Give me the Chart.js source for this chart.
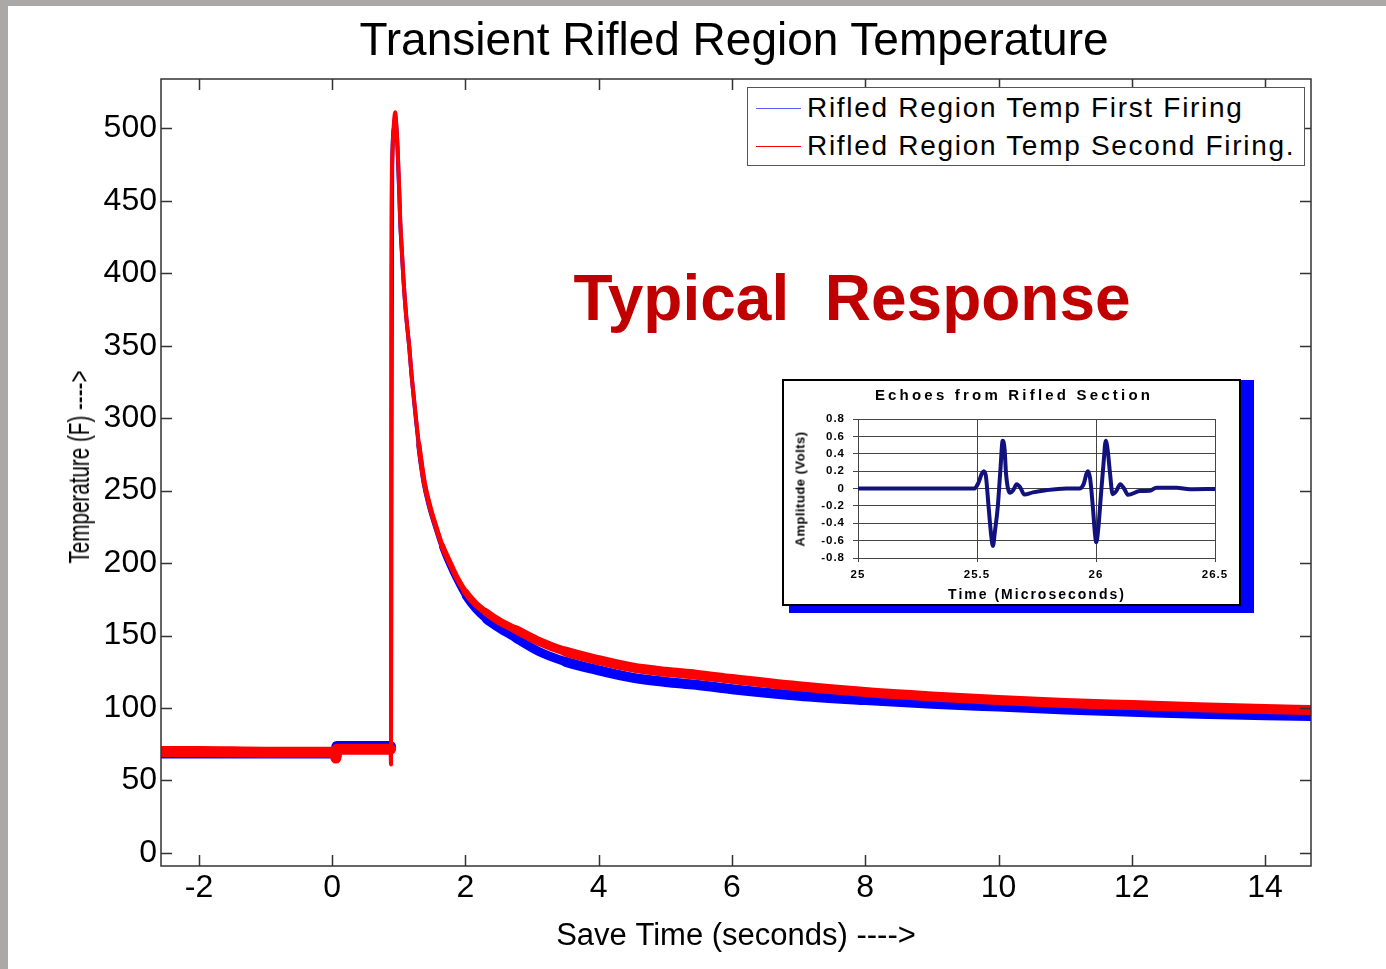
<!DOCTYPE html>
<html>
<head>
<meta charset="utf-8">
<title>Transient Rifled Region Temperature</title>
<script src="https://cdn.jsdelivr.net/npm/chart.js@4.4.0/dist/chart.umd.min.js"></script>
<style>
  body { margin: 0; background: #fff; width: 1386px; height: 969px; overflow: hidden; position: relative;
         font-family: "Liberation Sans", Arial, sans-serif; color: #000; }
  #mainChart { position: absolute; left: 0; top: 0; }
  .frameTop { position: absolute; left: 0; top: 0; width: 1386px; height: 6px; background: #aba9a5; }
  .frameLeft { position: absolute; left: 0; top: 0; width: 8px; height: 969px; background: #aba9a5; }
  .centered { position: absolute; transform: translate(-50%, -50%); white-space: pre; line-height: 1; }
  #title { left: 734px; top: 39px; font-size: 46px; }
  #ytitle { left: 79px; top: 467px; font-size: 30px; transform: translate(-50%, -50%) rotate(-90deg) scaleX(0.687); }
  #typical { left: 852px; top: 298px; font-size: 64px; font-weight: bold; color: #c00000; }
  #legend { position: absolute; left: 747px; top: 87px; width: 556px; height: 77px; border: 1px solid #555; background: #fff; }
  .legRow { position: absolute; left: 8px; height: 30px; display: flex; align-items: center; font-size: 28px; letter-spacing: 1.7px; }
  .legLine { width: 45px; height: 1px; margin-right: 6px; }
  #inset { position: absolute; left: 782px; top: 379px; width: 459px; height: 227px; box-sizing: border-box;
           border: 2px solid #000; background: #fff; box-shadow: 10px 4px 0 3px #0000ff; }
  #insetChart { position: absolute; left: 0; top: 0; }
  .insetText { position: absolute; transform: translate(-50%, -50%); white-space: pre; line-height: 1; font-weight: bold; }
</style>
</head>
<body>
<canvas id="mainChart" width="1386" height="969"></canvas>
<div class="frameTop"></div>
<div class="frameLeft"></div>
<div id="title" class="centered">Transient Rifled Region Temperature</div>
<div id="ytitle" class="centered">Temperature (F) ----&gt;</div>
<div id="typical" class="centered">Typical  Response</div>
<div id="legend">
  <div class="legRow" style="top:5px"><div class="legLine" style="background:#5c5cff"></div>Rifled Region Temp First Firing</div>
  <div class="legRow" style="top:43px"><div class="legLine" style="background:#ff0000"></div>Rifled Region Temp Second Firing.</div>
</div>
<div id="inset">
  <canvas id="insetChart" width="455" height="223"></canvas>
  <div class="insetText" style="left:230px; top:13px; font-size:15px; letter-spacing:3.2px;">Echoes from Rifled Section</div>
  <div class="insetText" style="left:253px; top:213px; font-size:14px; letter-spacing:2px;">Time (Microseconds)</div>
  <div class="insetText" style="left:16px; top:108px; font-size:13px; letter-spacing:0.5px; transform: translate(-50%, -50%) rotate(-90deg);">Amplitude (Volts)</div>
</div>

<script>
// main plot: save time (s) vs rifled region temperature (F)
const timeSec = [-2.57, -2, -1, 0, 0.04, 0.055, 0.07, 0.4, 0.8, 0.875,
  0.882, 0.886, 0.9, 0.925, 0.946, 0.965, 0.98, 1.006, 1.021, 1.047,
  1.07, 1.107, 1.156, 1.19, 1.23, 1.3, 1.38, 1.46, 1.557, 1.65,
  1.757, 1.87, 2.0, 2.15, 2.31, 2.5, 2.76, 3.1, 3.5, 4.0,
  4.5, 5.0, 5.46, 6.0, 7.0, 8.0, 9.0, 10, 11, 12,
  13, 14, 14.69];
const firstFiring = [69, 69, 69, 69, 69.5, 67, 73.5, 73.5, 73.5, 73.5,
  73, 200, 474, 500, 508, 499, 486, 455, 435, 413,
  395, 372, 349, 330, 311, 281, 255, 239, 224, 211,
  199, 188, 177, 168, 161, 155, 148, 139, 132, 126,
  121, 118, 116, 113, 108.5, 105.5, 103, 101, 99, 97.5,
  96, 95, 94.5];
const secondFiring = [70, 70, 69.5, 69.5, 70, 65.5, 71.5, 71.5, 71.5, 71.5,
  61, 390, 478, 503, 511, 500, 488, 457, 436, 414,
  395, 372, 349, 330, 312, 282, 256, 240, 225, 212,
  201, 190, 180, 172, 166, 160, 154, 146, 139, 133,
  128, 125, 123, 120, 115, 111, 108, 105.5, 103.5, 102,
  100.5, 99.3, 98.6];
const timeTicks = [-2, 0, 2, 4, 6, 8, 10, 12, 14];
const tempTicks = [0, 50, 100, 150, 200, 250, 300, 350, 400, 450, 500];

// inset: ultrasonic echoes
const echoTime = [25, 25.2, 25.489, 25.505, 25.52, 25.528, 25.537, 25.549, 25.56, 25.567,
  25.575, 25.587, 25.598, 25.608, 25.616, 25.622, 25.639, 25.652, 25.667, 25.682,
  25.699, 25.735, 25.79, 25.875, 25.93, 25.948, 25.96, 25.966, 25.975, 25.987,
  25.995, 26.001, 26.01, 26.022, 26.032, 26.041, 26.05, 26.058, 26.07, 26.085,
  26.102, 26.118, 26.135, 26.184, 26.226, 26.254, 26.338, 26.395, 26.5];
const echoAmp = [0, 0, 0, 0.06, 0.17, 0.2, 0.15, -0.22, -0.55, -0.66,
  -0.5, -0.22, 0.2, 0.55, 0.45, 0.17, -0.05, -0.02, 0.05, 0.01,
  -0.07, -0.045, -0.02, 0, 0, 0.05, 0.17, 0.2, 0.12, -0.22,
  -0.5, -0.62, -0.45, -0.03, 0.3, 0.55, 0.42, 0.2, -0.065, -0.03,
  0.05, 0, -0.073, -0.03, -0.027, 0.01, 0.01, -0.008, -0.005];
const echoTimeTicks = [25, 25.5, 26, 26.5];
const echoAmpTicks = [-0.8, -0.6, -0.4, -0.2, 0, 0.2, 0.4, 0.6, 0.8];

const FONT = "'Liberation Sans', Arial, sans-serif";

// noisy traces look like a thick band, thinner on the steep part
function bandWidth(ctx) {
    const x = ctx.p0.parsed.x;
    if (x < 0.87) return 11;
    if (x < 1.3) return 4;
    if (x < 1.6) return 5;
    if (x < 1.9) return 6;
    if (x < 2.2) return 7;
    if (x < 2.6) return 8;
    if (x < 3.2) return 9;
    return 10;
}

// matlab style box with inward ticks on all four sides
const boxTicks = {
    id: 'boxTicks',
    afterDatasetsDraw(chart) {
        const { ctx, chartArea: a, scales } = chart;
        const len = 11;
        ctx.save();
        ctx.strokeStyle = '#333';
        ctx.lineWidth = 1.5;
        ctx.strokeRect(a.left, a.top, a.right - a.left, a.bottom - a.top);
        ctx.beginPath();
        scales.x.ticks.forEach(t => {
            const px = Math.round(scales.x.getPixelForValue(t.value)) + 0.5;
            ctx.moveTo(px, a.bottom); ctx.lineTo(px, a.bottom - len);
            ctx.moveTo(px, a.top); ctx.lineTo(px, a.top + len);
        });
        scales.y.ticks.forEach(t => {
            const py = Math.round(scales.y.getPixelForValue(t.value)) + 0.5;
            ctx.moveTo(a.left, py); ctx.lineTo(a.left + len, py);
            ctx.moveTo(a.right, py); ctx.lineTo(a.right - len, py);
        });
        ctx.stroke();
        ctx.restore();
    }
};

// excel style spaced-out labels in the inset
const spacedText = {
    id: 'spacedText',
    beforeDraw(chart) { chart.ctx.letterSpacing = '1px'; }
};

const toPoints = (xs, ys) => xs.map((x, i) => ({ x: x, y: ys[i] }));

new Chart(document.getElementById('mainChart'), {
    type: 'line',
    data: {
        datasets: [
            {
                label: 'Rifled Region Temp Second Firing.',
                data: toPoints(timeSec, secondFiring),
                borderColor: '#ff0000',
                borderWidth: 10,
                borderCapStyle: 'round',
                segment: { borderWidth: bandWidth },
                order: 0
            },
            {
                label: 'Rifled Region Temp First Firing',
                data: toPoints(timeSec, firstFiring),
                borderColor: '#0000ff',
                borderWidth: 10,
                borderCapStyle: 'round',
                segment: { borderWidth: bandWidth },
                order: 1
            }
        ]
    },
    options: {
        responsive: false,
        animation: false,
        parsing: false,
        elements: { point: { radius: 0 }, line: { cubicInterpolationMode: 'monotone', borderJoinStyle: 'round' } },
        layout: { padding: { left: 0, right: 75, top: 79, bottom: 0 } },
        plugins: { legend: { display: false }, tooltip: { enabled: false } },
        scales: {
            x: {
                type: 'linear',
                min: -2.57,
                max: 14.69,
                afterBuildTicks: s => { s.ticks = timeTicks.map(v => ({ value: v })); },
                afterFit: s => { s.height = 103; },
                grid: { display: false, drawTicks: false },
                border: { display: false },
                ticks: { color: '#000', font: { family: FONT, size: 32 }, padding: 3, callback: v => String(v) },
                title: { display: true, text: 'Save Time (seconds) ---->', color: '#000',
                         font: { family: FONT, size: 31 }, padding: { top: 0, bottom: 14 } }
            },
            y: {
                type: 'linear',
                min: -9,
                max: 534,
                afterBuildTicks: s => { s.ticks = tempTicks.map(v => ({ value: v })); },
                afterFit: s => { s.width = 161; },
                grid: { display: false, drawTicks: false },
                border: { display: false },
                ticks: { color: '#000', font: { family: FONT, size: 32 }, padding: 4, callback: v => String(v) }
            }
        }
    },
    plugins: [boxTicks]
});

new Chart(document.getElementById('insetChart'), {
    type: 'line',
    data: {
        datasets: [{
            label: 'Echo',
            data: toPoints(echoTime, echoAmp),
            borderColor: '#12127f',
            borderWidth: 4,
            pointRadius: 0,
            cubicInterpolationMode: 'monotone'
        }]
    },
    options: {
        responsive: false,
        animation: false,
        parsing: false,
        layout: { padding: { left: 0, right: 24, top: 38, bottom: 0 } },
        plugins: { legend: { display: false }, tooltip: { enabled: false } },
        scales: {
            x: {
                type: 'linear',
                min: 25,
                max: 26.5,
                afterBuildTicks: s => { s.ticks = echoTimeTicks.map(v => ({ value: v })); },
                afterFit: s => { s.height = 46; },
                grid: { color: '#444', lineWidth: 1, tickLength: 4 },
                border: { color: '#444' },
                ticks: { color: '#000', font: { family: FONT, size: 11.5, weight: 'bold' }, padding: 6,
                         maxRotation: 0, callback: v => String(v) }
            },
            y: {
                type: 'linear',
                min: -0.8,
                max: 0.8,
                afterBuildTicks: s => { s.ticks = echoAmpTicks.map(v => ({ value: v })); },
                afterFit: s => { s.width = 74; },
                grid: { color: '#444', lineWidth: 1, tickLength: 5 },
                border: { color: '#444' },
                ticks: { color: '#000', font: { family: FONT, size: 11.5, weight: 'bold' }, padding: 8,
                         callback: v => String(Math.round(v * 10) / 10) }
            }
        }
    },
    plugins: [spacedText]
});
</script>
</body>
</html>
